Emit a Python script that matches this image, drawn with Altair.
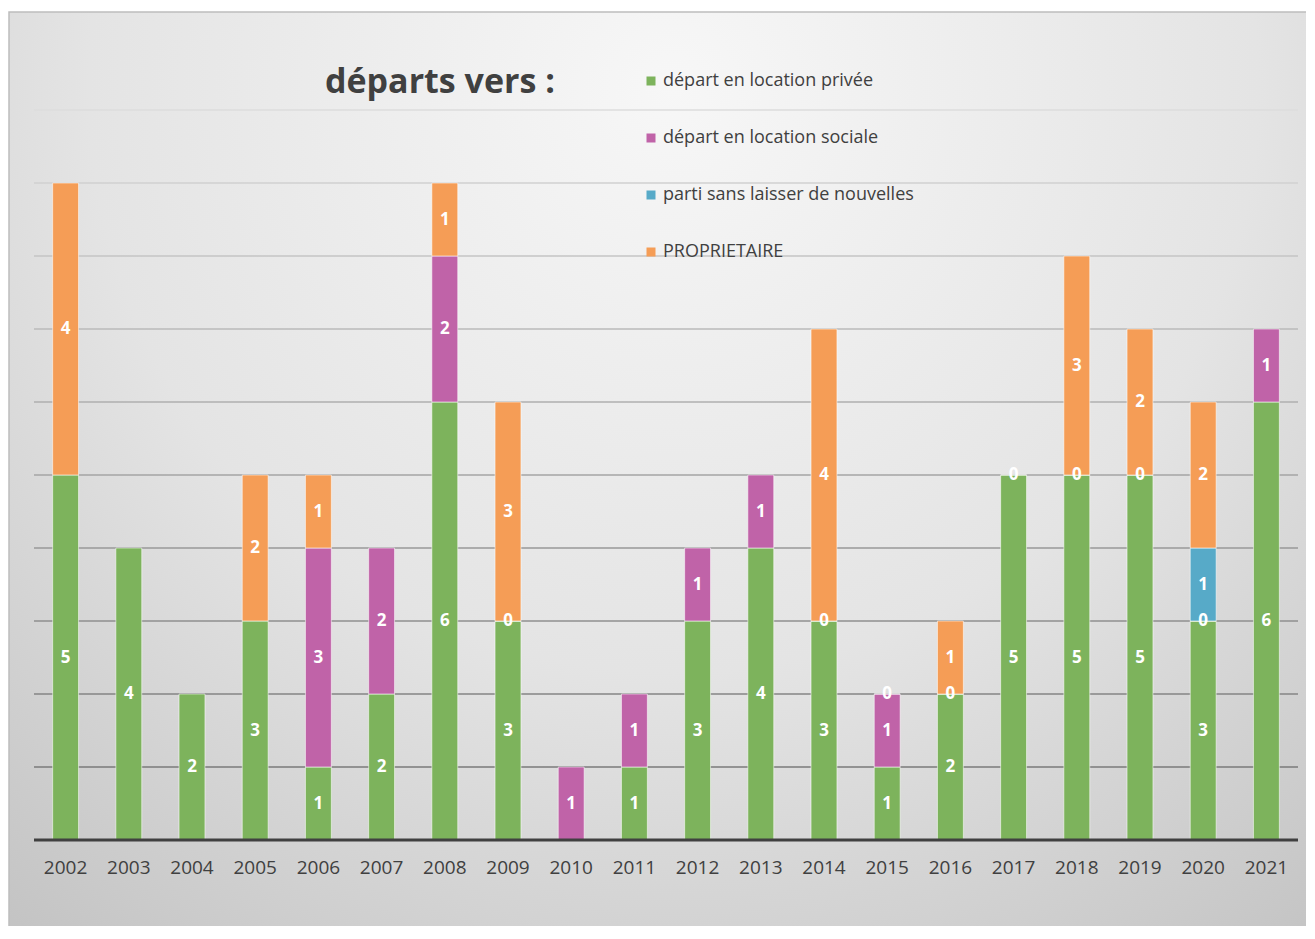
import altair as alt
import pandas as pd

years = [str(y) for y in range(2002, 2022)]
series = ["départ en location privée", "départ en location sociale",
          "parti sans laisser de nouvelles", "PROPRIETAIRE"]
prive = [5, 4, 2, 3, 1, 2, 6, 3, None, 1, 3, 4, 3, 1, 2, 5, 5, 5, 3, 6]
sociale = [None, None, None, None, 3, 2, 2, 0, 1, 1, 1, 1, 0, 1, 0, 0, 0, 0, 0, 1]
sans_nouvelles = [None] * 18 + [1, None]
proprio = [4, None, None, 2, 1, None, 1, 3, None, None, None, None, 4, 0, 1, None, 3, 2, 2, None]
colors = ["#7db35c", "#c063a8", "#57aac8", "#f59d56"]
title_text = "départs vers :"
grid_levels = list(range(1, 11))

rows = []
for si, (name, vals) in enumerate(zip(series, [prive, sociale, sans_nouvelles, proprio])):
    for y, v in zip(years, vals):
        if v is not None:
            rows.append({"year": y, "serie": name, "ord": si, "value": v})
df = pd.DataFrame(rows)

W, H = 1264, 730
FONT = "Open Sans"

xscale = alt.Scale(domain=years, paddingInner=0.59, paddingOuter=0.295)
yscale = alt.Scale(domain=[0, 10], nice=False)

bg = alt.Chart(alt.Data(values=[{}])).mark_rect(
    fill=alt.RadialGradient(
        gradient="radial", x1=0.5, y1=0.2, r1=0, x2=0.5, y2=0.2, r2=0.8,
        stops=[alt.GradientStop(offset=0, color="#f7f7f7"),
               alt.GradientStop(offset=0.55, color="#e4e4e4"),
               alt.GradientStop(offset=1, color="#c4c4c4")]),
    stroke="#bdbdbd", strokeWidth=1.5
).encode(x=alt.value(-25), x2=alt.value(W + 40), y=alt.value(-98), y2=alt.value(H + 120))

grid = alt.Chart(pd.DataFrame({"level": grid_levels})).mark_rule(strokeWidth=1.6).encode(
    y=alt.Y("level:Q", axis=None, scale=yscale),
    color=alt.Color("level:Q", scale=alt.Scale(domain=[1, 10], range=["#7a7a7a", "#dcdcdc"]), legend=None),
)

base = alt.Chart(df).transform_stack(
    stack="value", as_=["v0", "v1"], groupby=["year"],
    sort=[alt.SortField("ord", order="ascending")]
).transform_calculate(mid="(datum.v0 + datum.v1) / 2")

bars = base.mark_bar(stroke="#ffffff", strokeOpacity=0.55, strokeWidth=1).encode(
    x=alt.X("year:O", scale=xscale, axis=None),
    y=alt.Y("v0:Q", axis=None, scale=yscale),
    y2="v1:Q",
    color=alt.Color("serie:N", scale=alt.Scale(domain=series, range=colors),
                    legend=alt.Legend(title=None, orient="none", legendX=608, legendY=-38,
                                      direction="vertical", symbolType="square", symbolSize=81,
                                      symbolStrokeWidth=0, padding=0,
                                      labelFontSize=18, labelFont=FONT, labelColor="#404040",
                                      labelOffset=3, rowPadding=39, labelLimit=400)),
    order=alt.Order("ord:Q", sort="ascending"),
)

labels = base.mark_text(color="white", fontWeight="bold", fontSize=17, font=FONT,
                        baseline="middle", align="center").encode(
    x=alt.X("year:O", scale=xscale, axis=None),
    y=alt.Y("mid:Q", axis=None, scale=yscale),
    text=alt.Text("value:Q"),
)

baseline = alt.Chart(alt.Data(values=[{"v": 0}])).mark_rule(color="#404040", strokeWidth=3).encode(
    y=alt.Y("v:Q", axis=None, scale=yscale),
)

year_labels = alt.Chart(pd.DataFrame({"year": years})).mark_text(
    fontSize=19, font=FONT, color="#404040", baseline="middle", align="center"
).encode(
    x=alt.X("year:O", scale=xscale, axis=None),
    y=alt.value(H + 28),
    text="year:N",
)

title = alt.Chart(alt.Data(values=[{"t": title_text}])).mark_text(
    fontSize=34, fontWeight="bold", font=FONT, color="#404040", align="left", baseline="alphabetic"
).encode(x=alt.value(291), y=alt.value(-17), text="t:N")

chart = alt.layer(bg, grid, bars, labels, baseline, year_labels, title).resolve_scale(
    color="independent"
).properties(
    width=W, height=H,
    autosize=alt.AutoSizeParams(type="none"),
    padding={"left": 26, "top": 102, "right": 8, "bottom": 86},
).configure(background="white").configure_view(stroke=None)

chart.save("out.html", embed_options={"renderer": "svg", "actions": False})
